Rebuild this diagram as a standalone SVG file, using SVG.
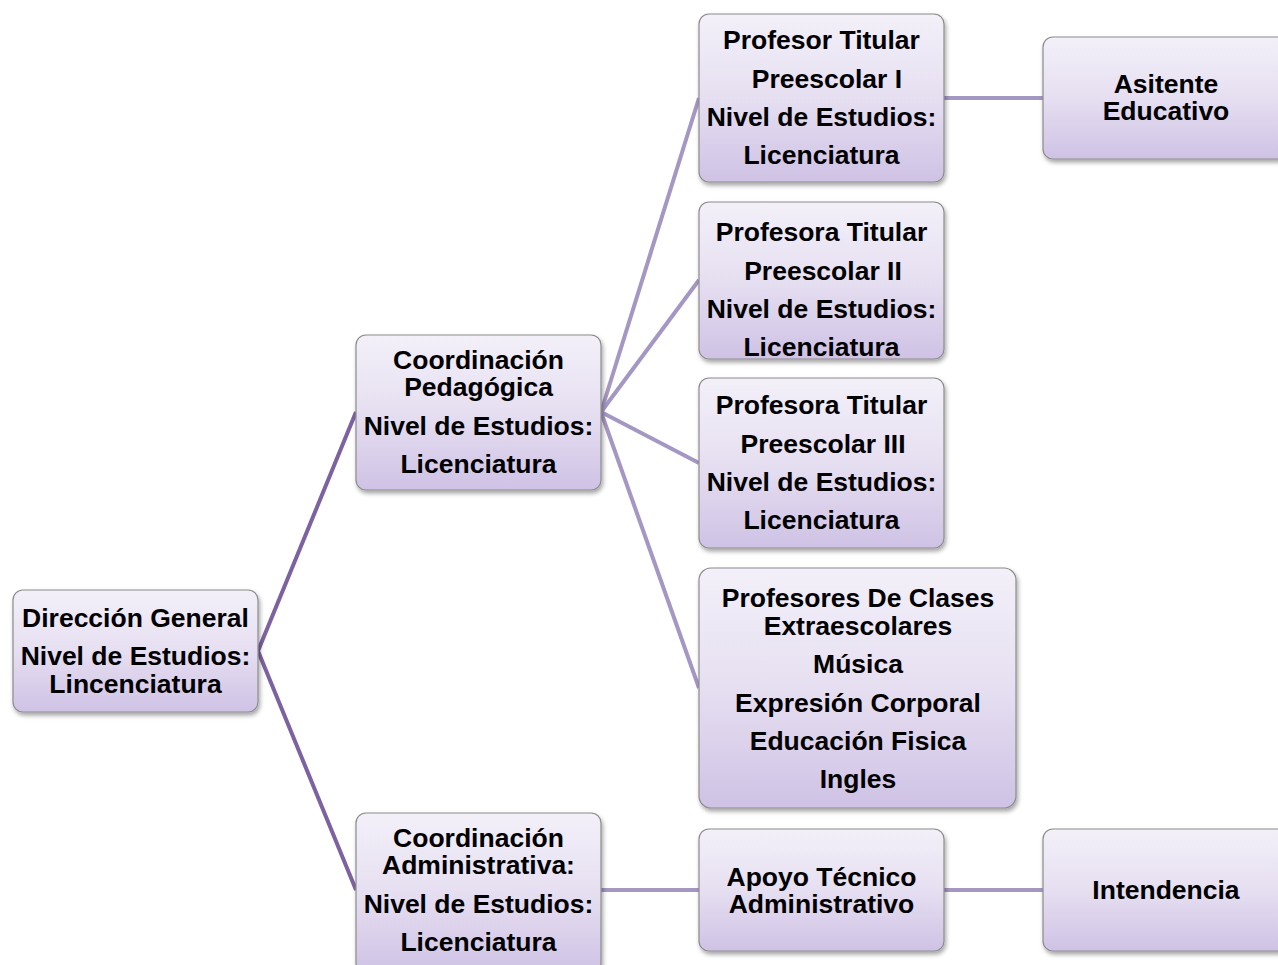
<svg xmlns="http://www.w3.org/2000/svg" width="1278" height="965" viewBox="0 0 1278 965">
<defs>
<linearGradient id="g" x1="0" y1="0" x2="0" y2="1">
<stop offset="0" stop-color="#f3f0f9"/>
<stop offset="0.5" stop-color="#e6dff1"/>
<stop offset="1" stop-color="#cfc2e5"/>
</linearGradient>
<filter id="sh" x="-10%" y="-10%" width="125%" height="130%">
<feDropShadow dx="1.5" dy="3" stdDeviation="2" flood-color="#000" flood-opacity="0.35"/>
</filter>
</defs>
<style>
.box{fill:url(#g);stroke:#8c8c8c;stroke-width:1.2;filter:url(#sh)}
text{font-family:"Liberation Sans",Arial,sans-serif;font-weight:bold;font-size:26.5px;fill:#000;text-anchor:middle}
.l1{stroke:#7d62a1;stroke-width:4;fill:none}
.l2{stroke:#a597c3;stroke-width:4;fill:none}
</style>
<rect width="1278" height="965" fill="#fff"/>
<g id="connectors">
<line class="l1" x1="258" y1="651" x2="356" y2="412"/>
<line class="l1" x1="258" y1="651" x2="356" y2="890"/>
<line class="l2" x1="601" y1="412" x2="699" y2="98"/>
<line class="l2" x1="601" y1="412" x2="699" y2="280"/>
<line class="l2" x1="601" y1="412" x2="699" y2="463"/>
<line class="l2" x1="601" y1="412" x2="699" y2="688"/>
<line class="l2" x1="601" y1="890" x2="699" y2="890"/>
<line class="l2" x1="944" y1="98" x2="1043" y2="98"/>
<line class="l2" x1="944" y1="890" x2="1043" y2="890"/>
</g>
<g id="direccion">
<rect class="box" x="13" y="590" width="245" height="122" rx="10"/>
<text x="135.5" y="627">Dirección General</text>
<text x="135.5" y="665">Nivel de Estudios:</text>
<text x="135.5" y="693">Lincenciatura</text>
</g>
<g id="coord-pedagogica">
<rect class="box" x="356" y="335" width="245" height="155" rx="10"/>
<text x="478.5" y="369">Coordinación</text>
<text x="478.5" y="396">Pedagógica</text>
<text x="478.5" y="435">Nivel de Estudios:</text>
<text x="478.5" y="473">Licenciatura</text>
</g>
<g id="coord-administrativa">
<rect class="box" x="356" y="813" width="245" height="160" rx="10"/>
<text x="478.5" y="847">Coordinación</text>
<text x="478.5" y="874">Administrativa:</text>
<text x="478.5" y="913">Nivel de Estudios:</text>
<text x="478.5" y="951">Licenciatura</text>
</g>
<g id="profesor-1">
<rect class="box" x="699" y="14" width="245" height="168" rx="10"/>
<text x="821.5" y="49">Profesor Titular</text>
<text x="827" y="88">Preescolar I</text>
<text x="821.5" y="126">Nivel de Estudios:</text>
<text x="821.5" y="164">Licenciatura</text>
</g>
<g id="profesora-2">
<rect class="box" x="699" y="202" width="245" height="157" rx="10"/>
<text x="821.5" y="241">Profesora Titular</text>
<text x="823" y="280">Preescolar II</text>
<text x="821.5" y="318">Nivel de Estudios:</text>
<text x="821.5" y="356">Licenciatura</text>
</g>
<g id="profesora-3">
<rect class="box" x="699" y="378" width="245" height="170" rx="10"/>
<text x="821.5" y="414">Profesora Titular</text>
<text x="823" y="453">Preescolar III</text>
<text x="821.5" y="491">Nivel de Estudios:</text>
<text x="821.5" y="529">Licenciatura</text>
</g>
<g id="extraescolares">
<rect class="box" x="699" y="568" width="317" height="240" rx="12"/>
<text x="858" y="607">Profesores De Clases</text>
<text x="858" y="635">Extraescolares</text>
<text x="858" y="673">Música</text>
<text x="858" y="712">Expresión Corporal</text>
<text x="858" y="750">Educación Fisica</text>
<text x="858" y="788">Ingles</text>
</g>
<g id="apoyo">
<rect class="box" x="699" y="829" width="245" height="122" rx="10"/>
<text x="821.5" y="886">Apoyo Técnico</text>
<text x="821.5" y="913">Administrativo</text>
</g>
<g id="asistente">
<rect class="box" x="1043" y="37" width="245" height="122" rx="10"/>
<text x="1166" y="93">Asitente</text>
<text x="1166" y="120">Educativo</text>
</g>
<g id="intendencia">
<rect class="box" x="1043" y="829" width="245" height="122" rx="10"/>
<text x="1166" y="899">Intendencia</text>
</g>
</svg>
